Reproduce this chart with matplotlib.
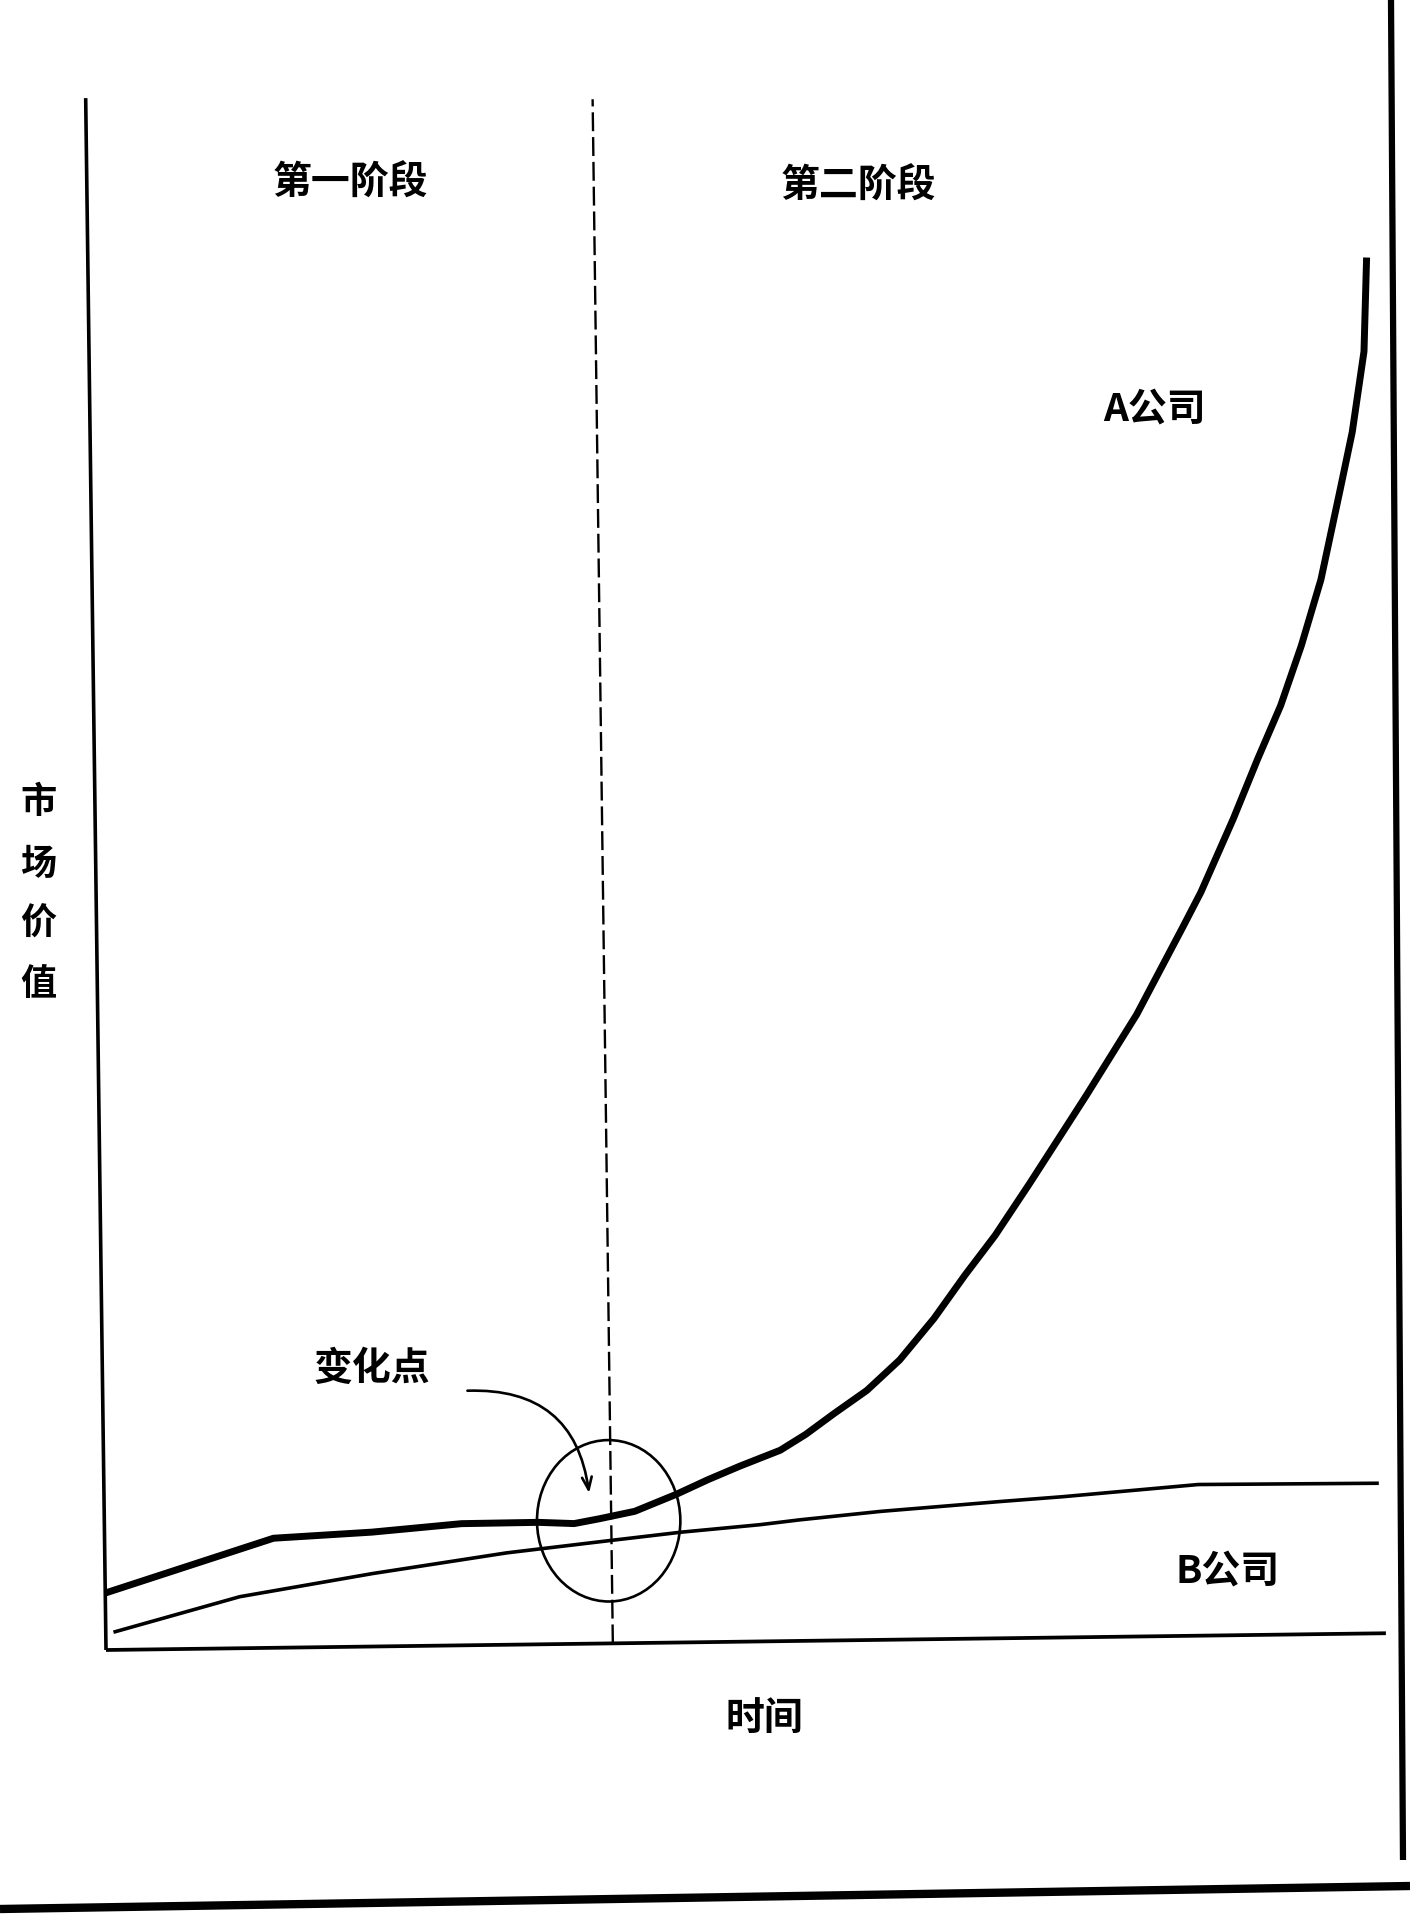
import matplotlib
matplotlib.use('Agg')
import matplotlib.pyplot as plt
from matplotlib.patches import Ellipse
from matplotlib.lines import Line2D
from matplotlib.transforms import Affine2D

plt.rcParams['font.family'] = ['Noto Sans CJK SC', 'DejaVu Sans']

# ---------------- data (arbitrary units 0..100) -------------
time_a = [0.0, 13.2, 20.9, 27.9, 33.9, 36.7, 38.68, 41.45, 44.71, 47.21, 49.70,
          52.87, 54.88, 57.10, 59.70, 62.30, 65.02, 67.45, 69.88, 72.59, 75.23,
          77.17, 81.17, 84.88, 86.3, 88.90, 90.87, 92.73, 94.4, 96.0, 97.6, 98.6,
          99.6, 99.9]
value_a = [3.67, 7.06, 7.37, 7.84, 7.86, 7.75, 8.04, 8.49, 9.55, 10.47, 11.31,
           12.30, 13.30, 14.61, 16.08, 18.02, 20.66, 23.39, 25.96, 29.23, 32.51,
           34.93, 40.08, 45.70, 47.89, 52.58, 56.42, 59.86, 63.69, 67.93, 73.73,
           77.42, 82.60, 88.65]
time_b = [0.6, 10.5, 20.9, 31.4, 39.4, 45.1, 51.2, 54.32, 60.7, 69.98, 74.9, 85.5, 99.6]
value_b = [1.14, 3.32, 4.70, 5.92, 6.62, 7.11, 7.52, 7.80, 8.28, 8.81, 9.07, 9.74, 9.67]

stage_boundary = 39.6
change_point = (39.4, 7.9)
change_size = (11.2, 10.4)
arrow_start = (28.5, 16.4)
arrow_tip = (37.9, 9.7)

stage_labels = ['第一阶段', '第二阶段']
series_labels = ['A公司', 'B公司']
x_label = '时间'
y_label_chars = ['市', '场', '价', '值']
change_label = '变化点'

# ---------------- figure ----------------
W, H = 1410, 1914
fig = plt.figure(figsize=(W / 100, H / 100), dpi=100)
fig.patch.set_facecolor('white')
ax = fig.add_axes([106 / W, 1 - 1650 / H, 1280 / W, 1552 / H])
ax.set_xlim(0, 100)
ax.set_ylim(0, 100)
ax.set_xticks([])
ax.set_yticks([])
for s in ax.spines.values():
    s.set_visible(False)
ax.patch.set_alpha(0)

# slight scan skew: rotate everything about the origin of the axes
x0, y0 = ax.transData.transform((0, 0))
rot = Affine2D().rotate_deg_around(x0, y0, 0.75)

def skew(artist):
    artist.set_transform(artist.get_transform() + rot)
    artist.set_clip_on(False)
    return artist

# axes lines
skew(ax.axvline(0, 0, 1, color='black', lw=2.6, solid_capstyle='butt'))
skew(ax.axhline(0, 0, 1, color='black', lw=2.7, solid_capstyle='butt'))

# stage boundary
vl = ax.axvline(stage_boundary, 0, 0.995, color='black', lw=1.7)
vl.set_dashes((8, 2.5))
skew(vl)

# curves
la, = ax.plot(time_a, value_a, color='black', lw=5.0, solid_capstyle='butt',
              solid_joinstyle='round')
skew(la)
lb, = ax.plot(time_b, value_b, color='black', lw=2.6, solid_capstyle='butt',
              solid_joinstyle='round')
skew(lb)

# change point circle
ell = Ellipse(change_point, change_size[0], change_size[1], fill=False,
              edgecolor='black', lw=1.9)
ax.add_patch(ell)
ell.set_transform(ax.transData + rot)
ell.set_clip_on(False)

# curved arrow
ax.annotate('', xy=arrow_tip, xytext=arrow_start,
            xycoords=ax.transData + rot, textcoords=ax.transData + rot,
            annotation_clip=False,
            arrowprops=dict(arrowstyle='->,head_length=0.9,head_width=0.35',
                            connectionstyle='arc3,rad=-0.45',
                            color='black', lw=1.9, shrinkA=0, shrinkB=0))

# ---------------- texts ----------------
fs = 28
fig.text(350 / W, 1 - 183 / H, stage_labels[0], ha='center', va='center',
         fontsize=fs, fontweight='bold')
fig.text(858 / W, 1 - 186 / H, stage_labels[1], ha='center', va='center',
         fontsize=fs, fontweight='bold')
fig.text(1154 / W, 1 - 409 / H, series_labels[0], ha='center', va='center',
         fontsize=fs, fontweight='bold')
fig.text(1228 / W, 1 - 1571 / H, series_labels[1], ha='center', va='center',
         fontsize=fs, fontweight='bold')
fig.text(372 / W, 1 - 1368 / H, change_label, ha='center', va='center',
         fontsize=fs, fontweight='bold')
fig.text(764 / W, 1 - 1718 / H, x_label, ha='center', va='center',
         fontsize=fs, fontweight='bold')
for ch, yp in zip(y_label_chars, [802, 864, 924, 984]):
    fig.text(38 / W, 1 - yp / H, ch, ha='center', va='center',
             fontsize=26, fontweight='bold')

# scanned page borders
fig.add_artist(Line2D([1391 / W, 1403 / W], [1.0, 1 - 1860 / H],
                      color='black', lw=4.5, solid_capstyle='butt'))
fig.add_artist(Line2D([0.0, 1.0], [1 - 1909 / H, 1 - 1886 / H],
                      color='black', lw=6, solid_capstyle='butt'))

fig.savefig('out.png', dpi=100, facecolor='white')
